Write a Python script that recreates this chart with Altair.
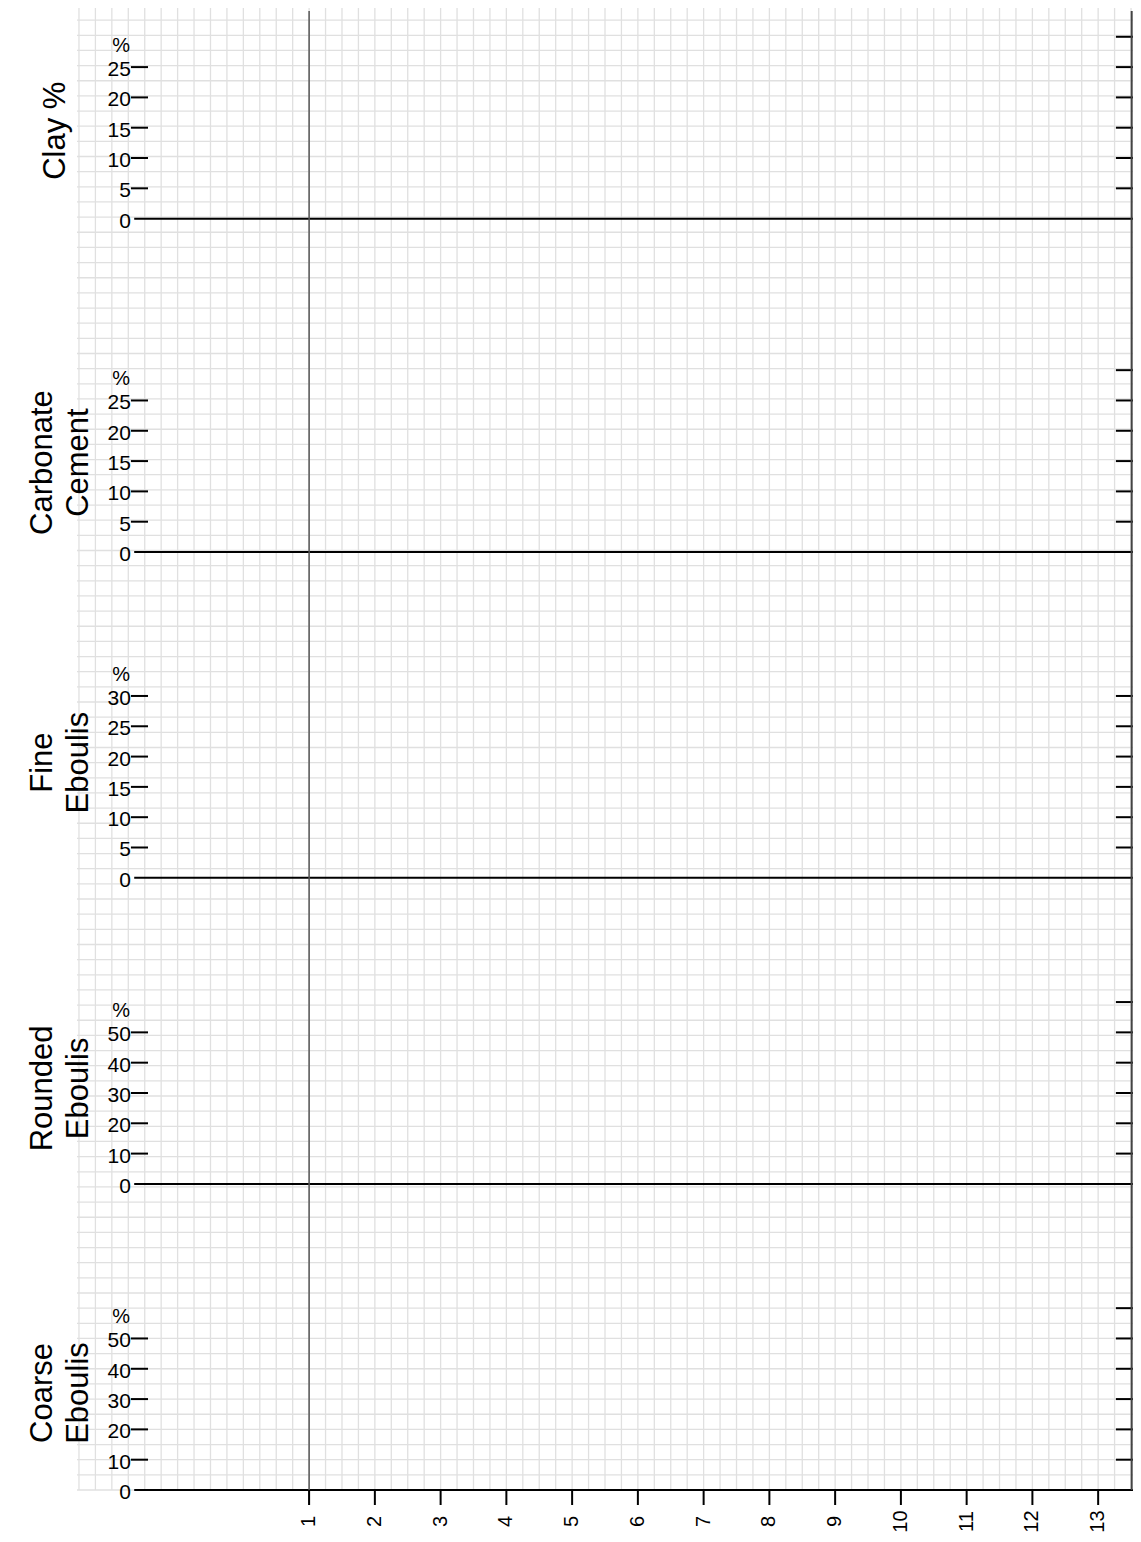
import altair as alt
import pandas as pd
import numpy as np

# ---- chart content -------------------------------------------------------
panel_titles = ["Clay %", "Carbonate\nCement", "Fine\nEboulis", "Rounded\nEboulis", "Coarse\nEboulis"]
left_ticks = [
    [0, 5, 10, 15, 20, 25],
    [0, 5, 10, 15, 20, 25],
    [0, 5, 10, 15, 20, 25, 30],
    [0, 10, 20, 30, 40, 50],
    [0, 10, 20, 30, 40, 50],
]
right_ticks = [
    [5, 10, 15, 20, 25, 30],
    [5, 10, 15, 20, 25, 30],
    [5, 10, 15, 20, 25, 30],
    [10, 20, 30, 40, 50, 60],
    [10, 20, 30, 40, 50, 60],
]
pct_per_row = [2.5, 2.5, 2.5, 5, 5]      # percent per graph-paper row
x_ticks = list(range(1, 14))

# ---- layout (in data units: x = sample number, y = graph-paper rows) ------
X_LEFT, X_RIGHT = -2.53, 13.53
Y_TOP = 97.8
base_rows = [83.9, 61.9, 40.4, 20.2, 0.0]
title_rows = [89.7, 67.8, 48.0, 26.5, 6.4]
title_x = [-2.85, -3.05, -3.05, -3.05, -3.05]
PLOT_W, PLOT_H = 1056, 1482
ROW_PX = PLOT_H / Y_TOP

xs = alt.Scale(domain=[X_LEFT, X_RIGHT], nice=False, zero=False)
ys = alt.Scale(domain=[0, Y_TOP], nice=False, zero=False)
FONT = "Liberation Sans"

# graph paper
vgrid = pd.DataFrame({"x": np.arange(-2.5, 13.51, 0.25)})
vgrid["y"] = 0.0
vgrid["y2"] = Y_TOP
hgrid = pd.DataFrame({"y": np.arange(0, 98, 1.0)})
hgrid["x"] = X_LEFT
hgrid["x2"] = X_RIGHT

# per-panel frames
zero_rows, lt_rows, rt_rows, pct_rows, title_df = [], [], [], [], []
for i, t in enumerate(panel_titles):
    b, p = base_rows[i], pct_per_row[i]
    zero_rows.append({"x": -1.66, "x2": X_RIGHT, "y": b})
    for v in left_ticks[i]:
        lt_rows.append({"x": -1.71, "x2": -1.45, "y": b + v / p, "label": str(v), "tick": v > 0})
    for v in right_ticks[i]:
        rt_rows.append({"x": 13.27, "x2": X_RIGHT, "y": b + v / p})
    pct_rows.append({"x": -1.86, "y": b + max(left_ticks[i]) / p + 21 / ROW_PX, "label": "%"})
    title_df.append({"x": title_x[i], "y": title_rows[i], "title": t})

zero_df = pd.DataFrame(zero_rows)
lt_df = pd.DataFrame(lt_rows)
rt_df = pd.DataFrame(rt_rows)
pct_df = pd.DataFrame(pct_rows)
title_df = pd.DataFrame(title_df)

xt_df = pd.DataFrame({"x": x_ticks, "label": [str(v) for v in x_ticks]})
xt_df["y"] = 0.0
xt_df["y2"] = -15 / ROW_PX
xt_df["ly"] = -31.5 / ROW_PX

X = lambda f="x": alt.X(f"{f}:Q", scale=xs, axis=None)
Y = lambda f="y": alt.Y(f"{f}:Q", scale=ys, axis=None)

layers = []
layers.append(alt.Chart(vgrid).mark_rule(color="#e0e0e0", strokeWidth=1.3).encode(
    x=X(), y=Y(), y2="y2:Q"))
layers.append(alt.Chart(hgrid).mark_rule(color="#e0e0e0", strokeWidth=1.3).encode(
    x=X(), x2="x2:Q", y=Y()))
layers.append(alt.Chart(zero_df).mark_rule(color="black", strokeWidth=2).encode(
    x=X(), x2="x2:Q", y=Y()))
layers.append(alt.Chart(lt_df[lt_df["tick"]]).mark_rule(color="black", strokeWidth=2).encode(
    x=X(), x2="x2:Q", y=Y()))
layers.append(alt.Chart(rt_df).mark_rule(color="black", strokeWidth=2).encode(
    x=X(), x2="x2:Q", y=Y()))
# vertical line at sample 1
v1 = pd.DataFrame({"x": [1], "y": [-15 / ROW_PX], "y2": [Y_TOP - 0.2]})
layers.append(alt.Chart(v1).mark_rule(color="#555555", strokeWidth=1.5).encode(
    x=X(), y=Y(), y2="y2:Q"))
# right border
rb = pd.DataFrame({"x": [X_RIGHT - 0.02], "y": [0.0], "y2": [Y_TOP - 0.2]})
layers.append(alt.Chart(rb).mark_rule(color="#444444", strokeWidth=2).encode(
    x=X(), y=Y(), y2="y2:Q"))
# x ticks
layers.append(alt.Chart(xt_df).mark_rule(color="black", strokeWidth=2).encode(
    x=X(), y=Y(), y2="y2:Q"))
layers.append(alt.Chart(xt_df).mark_text(font=FONT, fontSize=20, angle=270, align="center",
                                         baseline="middle", color="black").encode(
    x=X(), y=Y("ly"), text="label:N"))
# left tick labels
layers.append(alt.Chart(lt_df).mark_text(font=FONT, fontSize=21, align="right",
                                         baseline="middle", dy=3, color="black").encode(
    x=X(), y=Y(), text="label:N"))
layers.append(alt.Chart(pct_df).mark_text(font=FONT, fontSize=20, align="center",
                                          baseline="middle", color="black").encode(
    x=X(), y=Y(), text="label:N"))
layers.append(alt.Chart(title_df).mark_text(font=FONT, fontSize=31, angle=270, align="center",
                                            baseline="middle", lineBreak="\n", lineHeight=36,
                                            color="black").encode(
    x=X(), y=Y(), text="title:N"))

chart = alt.layer(*layers).properties(
    width=PLOT_W, height=PLOT_H,
    autosize=alt.AutoSizeParams(type="none"),
    padding={"left": 69, "top": 0, "right": 0, "bottom": 43},
).configure_view(stroke=None)

chart.save("out.html", embed_options={"renderer": "svg", "actions": False})
